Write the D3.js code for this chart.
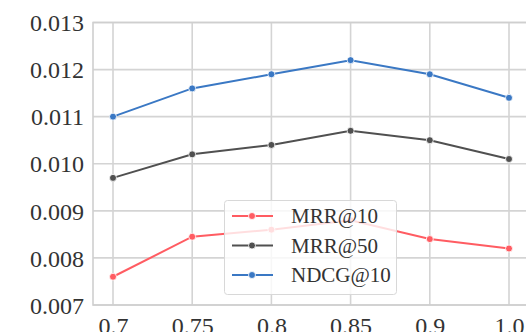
<!DOCTYPE html>
<html>
<head>
<meta charset="utf-8">
<script src="https://cdn.jsdelivr.net/npm/d3@7"></script>
<style>
  body { margin: 0; background: #fff; }
  svg { display: block; }
  text { font-family: "Liberation Serif", "DejaVu Serif", serif; fill: #333; }
</style>
</head>
<body>
<svg id="chart" width="526" height="332"></svg>
<script>
// x categories (ratio) and metric values
const ratios = ['0.7', '0.75', '0.8', '0.85', '0.9', '1.0'];
const mrr10 = [0.0076, 0.00845, 0.0086, 0.0088, 0.0084, 0.0082];
const mrr50 = [0.0097, 0.0102, 0.0104, 0.0107, 0.0105, 0.0101];
const ndcg10 = [0.0110, 0.0116, 0.0119, 0.0122, 0.0119, 0.0114];
const yTicks = [0.007, 0.008, 0.009, 0.010, 0.011, 0.012, 0.013];

const seriesNames = ['MRR@10', 'MRR@50', 'NDCG@10'];
const seriesColors = ['#ff5c62', '#505050', '#3a78c4'];
const series = [mrr10, mrr50, ndcg10];

const svg = d3.select('#chart');

// plot frame
const plotLeft = 93, plotRight = 529, plotTop = 22.5, plotBottom = 305;

const xScale = d3.scalePoint()
    .domain(ratios)
    .range([113, 509]);

const yScale = d3.scaleLinear()
    .domain([0.007, 0.013])
    .range([plotBottom, plotTop]);

// grid
const grid = svg.append('g');
grid.selectAll('line.h')
    .data(yTicks)
    .join('line')
    .attr('x1', plotLeft).attr('x2', plotRight)
    .attr('y1', d => yScale(d)).attr('y2', d => yScale(d))
    .attr('stroke', '#d4d4d4').attr('stroke-width', 1.6);
grid.selectAll('line.v')
    .data(ratios)
    .join('line')
    .attr('x1', d => xScale(d)).attr('x2', d => xScale(d))
    .attr('y1', plotTop).attr('y2', plotBottom)
    .attr('stroke', '#d4d4d4').attr('stroke-width', 1.6);

svg.append('rect')
    .attr('x', plotLeft).attr('y', plotTop)
    .attr('width', plotRight - plotLeft).attr('height', plotBottom - plotTop)
    .attr('fill', 'none').attr('stroke', '#cfcfcf').attr('stroke-width', 1.6);

// axes
const yAxis = d3.axisLeft(yScale)
    .tickValues(yTicks)
    .tickFormat(d3.format('.3f'))
    .tickSize(0)
    .tickPadding(9);
svg.append('g')
    .attr('transform', `translate(${plotLeft}, 0)`)
    .call(yAxis)
    .call(g => g.select('.domain').remove())
    .selectAll('text')
    .attr('font-size', 24)
    .attr('fill', '#333')
    .attr('dy', '0.34em');

const xAxis = d3.axisBottom(xScale)
    .tickSize(0)
    .tickPadding(12);
svg.append('g')
    .attr('transform', `translate(0, ${plotBottom})`)
    .call(xAxis)
    .call(g => g.select('.domain').remove())
    .selectAll('text')
    .attr('font-size', 24)
    .attr('fill', '#333');

// lines
const line = d3.line()
    .x((d, i) => xScale(ratios[i]))
    .y(d => yScale(d));

series.forEach((vals, s) => {
    svg.append('path')
        .datum(vals)
        .attr('fill', 'none')
        .attr('stroke', seriesColors[s])
        .attr('stroke-width', 2)
        .attr('d', line);
    svg.append('g')
        .selectAll('circle')
        .data(vals)
        .join('circle')
        .attr('cx', (d, i) => xScale(ratios[i]))
        .attr('cy', d => yScale(d))
        .attr('r', 3.5)
        .attr('fill', seriesColors[s])
        .attr('stroke', '#fff')
        .attr('stroke-width', 0.8);
});

// legend
const legend = svg.append('g');
legend.append('rect')
    .attr('x', 224.5).attr('y', 200.5)
    .attr('width', 172).attr('height', 94)
    .attr('rx', 3)
    .attr('fill', '#fff').attr('fill-opacity', 0.8)
    .attr('stroke', '#d8d8d8').attr('stroke-width', 1);

seriesNames.forEach((name, s) => {
    const y = 216 + s * 29.5;
    legend.append('line')
        .attr('x1', 232).attr('x2', 273)
        .attr('y1', y).attr('y2', y)
        .attr('stroke', seriesColors[s]).attr('stroke-width', 2);
    legend.append('circle')
        .attr('cx', 252).attr('cy', y).attr('r', 3.5)
        .attr('fill', seriesColors[s])
        .attr('stroke', '#fff').attr('stroke-width', 0.8);
    legend.append('text')
        .attr('x', 291).attr('y', y)
        .attr('dy', '0.35em')
        .attr('font-size', 21)
        .text(name);
});
</script>
</body>
</html>
